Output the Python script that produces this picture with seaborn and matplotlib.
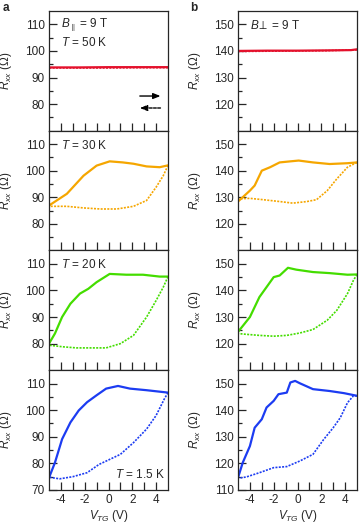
import numpy as np
import matplotlib
matplotlib.use('Agg')
import matplotlib.pyplot as plt
import seaborn as sns

sns.set_style('ticks')
plt.rcParams['font.family'] = ['Liberation Sans', 'DejaVu Sans']
plt.rcParams['mathtext.fontset'] = 'custom'
plt.rcParams['mathtext.rm'] = 'Liberation Sans'
plt.rcParams['mathtext.it'] = 'Liberation Sans:italic'
plt.rcParams['font.size'] = 8.5
plt.rcParams['axes.unicode_minus'] = False

# Temperatures (top to bottom) and colours
temps = ['50 K', '30 K', '20 K', '1.5 K']
colors = ['#e4112c', '#f5a600', '#44dd00', '#1c3cf2']

# --- a: B parallel = 9 T ---
# forward sweep (-5 -> 5, solid)
a_fwd_x = [
    [-5, -2.5, 0, 2.5, 5],
    [-5, -3.5, -2.1, -1.0, 0.1, 1.2, 2.1, 3.2, 4.3, 5],
    [-5, -4.5, -3.9, -3.2, -2.4, -1.7, -1.0, 0.1, 1.5, 2.9, 4.3, 5],
    [-5, -4.5, -3.9, -3.2, -2.5, -1.8, -1.0, -0.2, 0.8, 1.8, 3.2, 4.6, 5],
]
a_fwd_y = [
    [93.8, 93.8, 93.9, 93.9, 93.9],
    [86.9, 91.3, 98.1, 101.9, 103.5, 103.1, 102.6, 101.6, 101.3, 102.0],
    [80.0, 83.8, 90.0, 95.0, 98.8, 100.6, 103.1, 106.2, 105.9, 105.9, 105.2, 105.2],
    [74.6, 80.3, 89.1, 95.4, 99.9, 103.0, 105.6, 108.1, 109.1, 108.1, 107.5, 106.8, 106.6],
]
# backward sweep (5 -> -5, dashed)
a_bwd_x = [
    [5, 2.5, 0, -2.5, -5],
    [5, 4.6, 4.0, 3.2, 2.1, 0.7, -0.7, -2.1, -3.5, -5],
    [5, 4.6, 4.0, 3.2, 2.1, 1.0, -0.2, -1.3, -2.7, -3.8, -5],
    [5, 4.7, 4.0, 3.2, 2.1, 1.0, 0.1, -0.8, -1.8, -3.0, -4.1, -5],
]
a_bwd_y = [
    [93.7, 93.7, 93.6, 93.6, 93.6],
    [102.0, 98.1, 93.8, 88.8, 86.6, 85.6, 85.6, 86.0, 86.6, 86.6],
    [105.2, 101.2, 96.2, 90.0, 83.1, 80.0, 78.4, 78.4, 78.4, 78.8, 79.4],
    [106.6, 104.3, 98.0, 92.9, 87.8, 83.4, 81.5, 79.6, 76.5, 75.0, 74.2, 74.8],
]

# --- b: B perpendicular = 9 T ---
b_fwd_x = [
    [-5, -2.5, 0, 2.5, 4.5, 5],
    [-5, -4.0, -3.6, -3.0, -2.3, -1.5, -0.6, 0.1, 1.3, 2.7, 4.2, 5],
    [-5, -4.0, -3.2, -2.0, -1.5, -0.8, -0.1, 1.3, 2.7, 4.2, 5],
    [-5, -4.6, -4.0, -3.6, -3.0, -2.6, -2.0, -1.6, -0.9, -0.6, -0.2, 0.2, 1.3, 2.7, 3.9, 5],
]
b_fwd_y = [
    [140.0, 140.1, 140.1, 140.2, 140.3, 140.6],
    [128.4, 132.5, 134.4, 140.0, 141.3, 143.1, 143.5, 143.8, 143.1, 142.5, 142.8, 143.1],
    [124.4, 130.0, 137.5, 145.0, 145.6, 148.5, 147.8, 146.9, 146.5, 145.9, 146.0],
    [114.6, 120.3, 126.5, 133.4, 136.6, 141.0, 143.5, 146.0, 146.6, 150.4, 151.0, 150.1, 147.9, 147.2, 146.4, 145.4],
]
b_bwd_x = [
    [5, 2.5, 0, -2.5, -5],
    [5, 4.2, 3.3, 2.5, 1.6, 0.8, -0.4, -1.5, -2.9, -4.0, -5],
    [5, 4.7, 4.2, 3.3, 2.5, 1.3, 0.2, -0.9, -2.0, -3.2, -4.3, -5],
    [5, 4.7, 4.2, 3.6, 3.0, 2.2, 1.3, 0.2, -0.9, -2.0, -3.2, -4.3, -5],
]
b_bwd_y = [
    [140.4, 140.1, 140.0, 139.9, 139.8],
    [143.1, 141.3, 136.9, 132.5, 129.1, 128.4, 127.8, 128.4, 129.1, 129.6, 129.4],
    [146.0, 143.8, 138.8, 132.5, 128.8, 125.3, 124.0, 123.1, 122.8, 123.1, 123.5, 123.8],
    [145.4, 145.4, 142.8, 137.2, 133.4, 129.0, 123.4, 120.9, 118.8, 118.4, 116.5, 114.9, 114.4],
]

fig = plt.figure(figsize=(3.6, 5.28), dpi=100)

W, H = 360, 528
top, bot = 11, 490
ph = (bot - top) / 4


def make_axes(x0, x1, i):
    y1 = top + i * ph
    return fig.add_axes([x0 / W, 1 - (y1 + ph) / H, (x1 - x0) / W, ph / H])


def style(ax, ylo, last):
    ax.set_xlim(-5, 5)
    ax.set_ylim(ylo, ylo + 45)
    ax.set_xticks([-4, -2, 0, 2, 4])
    ax.set_xticks([-3, -1, 1, 3], minor=True)
    start = ylo if last else ylo + 10
    ax.set_yticks(np.arange(start, ylo + 41, 10))
    ax.set_yticks(np.arange(ylo + 5, ylo + 45, 10), minor=True)
    ax.tick_params(which='both', direction='in', width=0.9, pad=3, labelsize=8.5)
    ax.tick_params(which='major', length=5.5)
    ax.tick_params(which='minor', length=3)
    ax.tick_params(axis='x', which='both', length=5.5)
    for s in ax.spines.values():
        s.set_linewidth(0.9)
    ax.set_ylabel(r'$R_{xx}$ (Ω)', fontsize=8.5)
    if last:
        ax.set_xlabel(r'$V_{TG}$ (V)', fontsize=8.5, labelpad=1)
    else:
        ax.tick_params(axis='x', labelbottom=False)


for i in range(4):
    last = i == 3
    for col, (x0, x1, ylo, fx, fy, bx, by) in enumerate([
        (49, 168, 70, a_fwd_x, a_fwd_y, a_bwd_x, a_bwd_y),
        (238, 357, 110, b_fwd_x, b_fwd_y, b_bwd_x, b_bwd_y),
    ]):
        ax = make_axes(x0, x1, i)
        sns.lineplot(x=fx[i], y=fy[i], ax=ax, sort=False, estimator=None,
                     color=colors[i], lw=1.6)
        sns.lineplot(x=bx[i], y=by[i], ax=ax, sort=False, estimator=None,
                     color=colors[i], lw=1.2, linestyle=(0, (1.2, 0.8)))
        style(ax, ylo, last)
        ax.yaxis.set_label_coords(-0.29, 0.5)

        if col == 0:
            if i == 0:
                ax.text(0.1, 0.88, r'$B_{\parallel}$ = 9 T', transform=ax.transAxes, va='center')
                ax.text(0.1, 0.74, r'$T$ = 50 K', transform=ax.transAxes, va='center')
                ax.annotate('', xy=(0.96, 0.29), xytext=(0.74, 0.29), xycoords='axes fraction',
                            arrowprops=dict(arrowstyle='-|>,head_length=0.5,head_width=0.2',
                                            lw=1, color='k'))
                ax.annotate('', xy=(0.74, 0.19), xytext=(0.96, 0.19), xycoords='axes fraction',
                            arrowprops=dict(arrowstyle='-|>,head_length=0.5,head_width=0.2',
                                            lw=1, color='k', linestyle=(0, (2, 1))))
            elif i < 3:
                ax.text(0.1, 0.88, r'$T$ = ' + temps[i], transform=ax.transAxes, va='center')
            else:
                ax.text(0.97, 0.13, r'$T$ = ' + temps[i], transform=ax.transAxes,
                        va='center', ha='right')
        elif i == 0:
            ax.text(0.1, 0.88, r'$B\!\perp$ = 9 T', transform=ax.transAxes, va='center')

fig.text(3 / W, 1 - 8 / H, 'a', weight='bold', fontsize=8.5, va='center')
fig.text(190 / W, 1 - 8 / H, 'b', weight='bold', fontsize=8.5, va='center')

fig.savefig('out.png', dpi=100)
